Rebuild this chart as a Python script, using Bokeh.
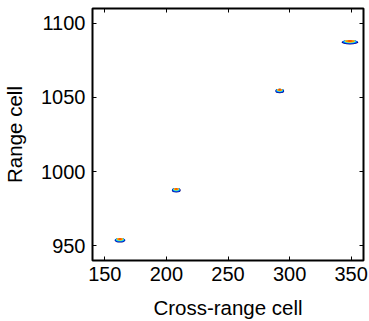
from bokeh.plotting import figure
from bokeh.models import LinearAxis, Range1d, FixedTicker, CustomLabelingPolicy
from bokeh.embed import file_html
from bokeh.resources import INLINE

# Target peaks (centre in cross-range / range cells) and their cross-range spread
cross_range = [162.3, 208.0, 292.0, 349.0]
range_cell = [953.6, 987.4, 1054.3, 1087.2]
spread = [8.8, 7.2, 7.2, 13.7]
peak_height = 3.0

x_ticks = [150, 200, 250, 300, 350]
y_ticks = [950, 1000, 1050, 1100]

FONT = "Liberation Sans"

p = figure(frame_width=271, frame_height=252,
           x_range=Range1d(140, 360), y_range=Range1d(940, 1110),
           output_backend="svg", toolbar_location=None,
           min_border_left=86, min_border_right=6,
           min_border_top=8, min_border_bottom=57)

p.grid.visible = False
p.outline_line_color = "black"
p.outline_line_width = 2
p.outline_line_alpha = 1.0

# contour-like layers (jet colormap) for each peak
layers = [
    (1.00, 1.00, 0.00, "#00007F"),
    (0.88, 0.85, 0.08, "#0050FF"),
    (0.76, 0.72, 0.16, "#00CFFF"),
    (0.64, 0.60, 0.22, "#DFFF30"),
    (0.54, 0.52, 0.26, "#FF8C00"),
    (0.28, 0.30, 0.30, "#FF4000"),
]
for sw, sh, dy, col in layers:
    p.ellipse(x=cross_range,
              y=[v + dy * peak_height for v in range_cell],
              width=[s * sw for s in spread],
              height=[peak_height * sh] * len(range_cell),
              fill_color=col, line_color=None)

for ax in (p.xaxis[0], p.yaxis[0]):
    ax.major_tick_in = 4
    ax.major_tick_out = 0
    ax.minor_tick_line_color = None
    ax.axis_line_color = None
    ax.major_tick_line_color = "black"
    ax.major_label_text_font = FONT
    ax.major_label_text_font_size = "20px"
    ax.major_label_text_color = "black"
    ax.axis_label_text_font = FONT
    ax.axis_label_text_font_size = "20.5px"
    ax.axis_label_text_font_style = "normal"
    ax.axis_label_text_color = "black"

p.xaxis.ticker = FixedTicker(ticks=x_ticks)
p.yaxis.ticker = FixedTicker(ticks=y_ticks)
p.xaxis.axis_label = "Cross-range cell"
p.yaxis.axis_label = "Range cell"
p.xaxis.major_label_standoff = 6
p.yaxis.major_label_standoff = 7
p.xaxis.axis_label_standoff = 12
p.yaxis.axis_label_standoff = 12

# mirrored ticks on top and right (no labels drawn)
no_labels = CustomLabelingPolicy(code="""
    const r = indices.clone ? indices.clone() : indices
    const n = r.size
    for (let i = 0; i < n; i++) {
        try { r.unset(i) } catch (e) { try { r.set(i, false) } catch (e2) {} }
    }
    return r
""")
top = LinearAxis(ticker=FixedTicker(ticks=x_ticks), major_label_policy=no_labels)
right = LinearAxis(ticker=FixedTicker(ticks=y_ticks), major_label_policy=no_labels)
for ax in (top, right):
    ax.major_tick_in = 4
    ax.major_tick_out = 0
    ax.minor_tick_line_color = None
    ax.axis_line_color = None
    ax.major_label_standoff = 0
    ax.major_label_text_font_size = "1px"
p.add_layout(top, "above")
p.add_layout(right, "right")

open("out.html", "w").write(file_html(p, INLINE))
